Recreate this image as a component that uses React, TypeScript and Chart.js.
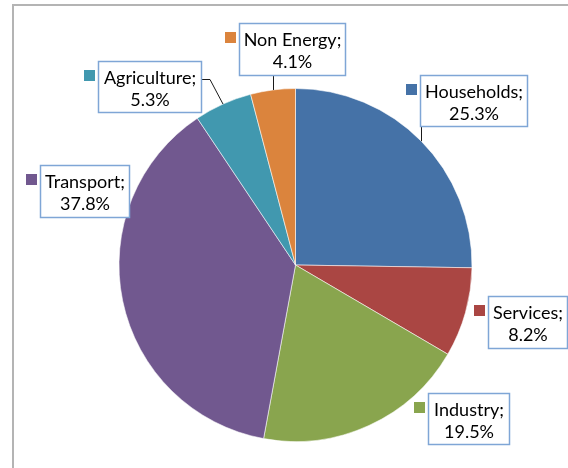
import React, { useEffect, useRef } from "react";
import { Chart, registerables } from "chart.js";

Chart.register(...registerables);

const categories = ["Households", "Services", "Industry", "Transport", "Agriculture", "Non Energy"];
const shares = [25.3, 8.2, 19.5, 37.8, 5.3, 4.1];
const sliceColors = ["#4572A7", "#AA4643", "#89A54E", "#71588F", "#4198AF", "#DB843D"];

// label box layout (x0, y0, x1, y1) and leader style, per category
const labelBoxes = [
  { x0: 420, y0: 75, x1: 528, y1: 127, leader: "bottom" },
  { x0: 488, y0: 296, x1: 568, y1: 349, leader: "none" },
  { x0: 428, y0: 393, x1: 510, y1: 445, leader: "none" },
  { x0: 40, y0: 165, x1: 130, y1: 218, leader: "none" },
  { x0: 98, y0: 61, x1: 202, y1: 113, leader: "right" },
  { x0: 239, y0: 23, x1: 346, y1: 76, leader: "bottom" },
];

const FONT = "18px Lato, 'Open Sans', sans-serif";

const overlayPlugin = {
  id: "overlay",
  beforeDraw(chart: any) {
    const ctx = chart.ctx;
    ctx.save();
    ctx.strokeStyle = "#B4B4B4";
    ctx.lineWidth = 2;
    ctx.beginPath();
    ctx.moveTo(13, 480);
    ctx.lineTo(13, 5);
    ctx.lineTo(580, 5);
    ctx.stroke();
    ctx.restore();
  },
  afterDraw(chart: any) {
    const ctx = chart.ctx;
    const meta = chart.getDatasetMeta(0);
    const data = chart.data.datasets[0].data as number[];
    const labels = chart.data.labels as string[];
    const colors = chart.data.datasets[0].backgroundColor as string[];
    ctx.save();
    meta.data.forEach((arc: any, i: number) => {
      const box = labelBoxes[i];
      const mid = (arc.startAngle + arc.endAngle) / 2;
      const px = arc.x + Math.cos(mid) * arc.outerRadius;
      const py = arc.y + Math.sin(mid) * arc.outerRadius;
      // leader line
      ctx.strokeStyle = "#1a1a1a";
      ctx.lineWidth = 1;
      if (box.leader === "bottom") {
        const x = Math.round(px) + 0.5;
        ctx.beginPath();
        ctx.moveTo(x, box.y1);
        ctx.lineTo(x, py);
        ctx.stroke();
      } else if (box.leader === "right") {
        const ey = box.y0 + 18.5;
        ctx.beginPath();
        ctx.moveTo(box.x1, ey);
        ctx.lineTo(box.x1 + 8, ey);
        ctx.lineTo(px, py);
        ctx.stroke();
      }
      // box
      ctx.fillStyle = "#FFFFFF";
      ctx.fillRect(box.x0, box.y0, box.x1 - box.x0, box.y1 - box.y0);
      ctx.strokeStyle = "#7FA6D6";
      ctx.lineWidth = 1.5;
      ctx.strokeRect(box.x0 + 0.5, box.y0 + 0.5, box.x1 - box.x0 - 1, box.y1 - box.y0 - 1);
      // legend key
      ctx.fillStyle = colors[i];
      ctx.fillRect(box.x0 - 14, box.y0 + 9, 11, 11);
      // text
      ctx.fillStyle = "#000000";
      ctx.font = FONT;
      ctx.textAlign = "center";
      ctx.textBaseline = "middle";
      const cx = (box.x0 + box.x1) / 2;
      ctx.fillText(labels[i] + ";", cx, box.y0 + 17);
      ctx.fillText(data[i].toFixed(1) + "%", cx, box.y0 + 39);
    });
    ctx.restore();
  },
};

export default function App() {
  const ref = useRef<HTMLCanvasElement | null>(null);
  useEffect(() => {
    if (!ref.current) return;
    const chart = new Chart(ref.current, {
      type: "pie",
      data: {
        labels: categories,
        datasets: [
          {
            data: shares,
            backgroundColor: sliceColors,
            borderColor: "rgba(255,255,255,0.55)",
            borderWidth: 1,
          },
        ],
      },
      options: {
        responsive: false,
        animation: false,
        devicePixelRatio: 1,
        layout: { padding: { left: 118, right: 95, top: 88, bottom: 26 } },
        plugins: { legend: { display: false }, tooltip: { enabled: false } },
      },
      plugins: [overlayPlugin],
    });
    return () => chart.destroy();
  }, []);
  return (
    <div style={{ position: "absolute", left: 0, top: 0, width: 568, height: 468, background: "#fff" }}>
      <canvas ref={ref} width={568} height={468} style={{ display: "block" }} />
    </div>
  );
}
